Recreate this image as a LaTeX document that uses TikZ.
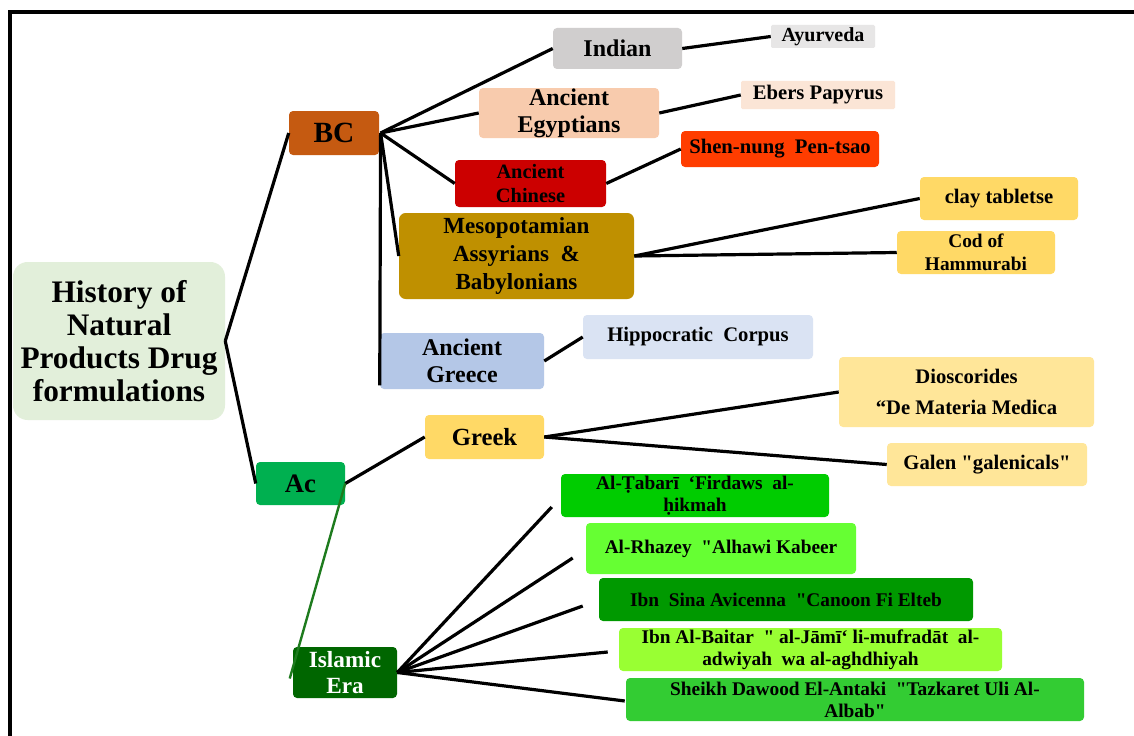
\documentclass[tikz,border=0pt]{standalone}
\usepackage{fontspec}
\setmainfont{Liberation Serif}
\newfontfamily\tnr{Liberation Serif}
\usetikzlibrary{calc}
\newcommand{\myfs}[2]{\tnr\bfseries\fontsize{#1}{#2}\selectfont}
\definecolor{cRoot}{HTML}{E2EFDA}
\definecolor{cBC}{HTML}{C55A11}
\definecolor{cAc}{HTML}{00B050}
\definecolor{cIndian}{HTML}{D0CECE}
\definecolor{cAyur}{HTML}{E7E6E6}
\definecolor{cEgypt}{HTML}{F8CBAD}
\definecolor{cEbers}{HTML}{FBE5D6}
\definecolor{cChina}{HTML}{CC0000}
\definecolor{cShen}{HTML}{FF3D00}
\definecolor{cMeso}{HTML}{BF9000}
\definecolor{cGold}{HTML}{FFD966}
\definecolor{cGreece}{HTML}{B4C7E7}
\definecolor{cHippo}{HTML}{DAE3F3}
\definecolor{cPale}{HTML}{FFE699}
\definecolor{cIslam}{HTML}{006600}
\definecolor{cTabari}{HTML}{00CC00}
\definecolor{cRhazey}{HTML}{66FF33}
\definecolor{cSina}{HTML}{009900}
\definecolor{cBaitar}{HTML}{99FF33}
\definecolor{cSheikh}{HTML}{33CC33}
\definecolor{cGline}{HTML}{1E7B1E}
\begin{document}
\begin{tikzpicture}[x=0.75pt,y=-0.75pt,
  bx/.style={draw=none, rounded corners=3pt, inner sep=0pt, align=center},
  ln/.style={line width=2.4pt, black},
]
\useasboundingbox (0,0) rectangle (1134,735);
\fill[white] (0,0) rectangle (1134,735);
\draw[line width=3pt, black] (10,740) -- (10,12) -- (1140,12);

% nodes
\node[bx, fill=cRoot, minimum width=159pt, minimum height=118.5pt, rounded corners=11pt,
  font=\myfs{23.5}{24.75}] (root) at (119,341) {History of\\Natural\\Products Drug\\formulations};
\node[bx, fill=cBC, minimum width=67.5pt, minimum height=33pt, font=\myfs{22}{24}] (bc) at (334,133) {BC};
\node[bx, fill=cAc, minimum width=66.75pt, minimum height=32.25pt, font=\myfs{20}{22}] (ac) at (300.5,483.5) {Ac};

\node[bx, fill=cIndian, minimum width=96.75pt, minimum height=30.75pt, font=\myfs{18}{20}] (indian) at (617.5,48.5) {Indian};
\node[bx, fill=cAyur, rounded corners=1pt, minimum width=78pt, minimum height=17.25pt, font=\myfs{15}{17}] (ayur) at (823,36.5) {Ayurveda};
\node[bx, fill=cEgypt, minimum width=135pt, minimum height=37.5pt, font=\myfs{18}{20.25}] (egypt) at (569,113) {Ancient\\Egyptians};
\node[bx, fill=cEbers, rounded corners=1pt, minimum width=115.5pt, minimum height=21pt, font=\myfs{15.5}{17}] (ebers) at (818,95) {Ebers Papyrus};
\node[bx, fill=cChina, minimum width=113.25pt, minimum height=35.25pt, font=\myfs{15.3}{18}] (china) at (530.5,183.5) {Ancient\\Chinese};
\node[bx, fill=cShen, minimum width=148.5pt, minimum height=27pt, font=\myfs{15.5}{17}] (shen) at (780,149) {Shen-nung\ \ Pen-tsao};
\node[bx, fill=cMeso, minimum width=176.25pt, minimum height=64.5pt, rounded corners=5pt, font=\myfs{17.3}{21}] (meso) at (516.5,256) {Mesopotamian\\Assyrians\ \ \&\\Babylonians};
\node[bx, fill=cGold, minimum width=118.5pt, minimum height=32.25pt, font=\myfs{15.5}{17}] (clay) at (999,198.5) {clay tabletse};
\node[bx, fill=cGold, minimum width=118.5pt, minimum height=32.25pt, font=\myfs{14.5}{17.25}] (cod) at (976,252.5) {Cod of\\Hammurabi};
\node[bx, fill=cGreece, minimum width=123pt, minimum height=42pt, font=\myfs{18}{20.25}] (greece) at (462,361) {Ancient\\Greece};
\node[bx, fill=cHippo, minimum width=172.5pt, minimum height=33pt, font=\myfs{15.5}{17}] (hippo) at (698,337) {Hippocratic\ \ Corpus};

\node[bx, fill=cGold, minimum width=89.25pt, minimum height=33pt, font=\myfs{18.5}{20}] (greek) at (484.5,437) {Greek};
\node[bx, fill=cPale, minimum width=191.25pt, minimum height=52.5pt, font=\myfs{15.5}{23.25}] (dios) at (966.5,392) {Dioscorides\\“De Materia Medica};
\node[bx, fill=cPale, minimum width=150pt, minimum height=32.25pt, font=\myfs{15.5}{17}] (galen) at (987,464.5) {Galen "galenicals"};

\node[bx, fill=cIslam, text=white, minimum width=78pt, minimum height=38.25pt, font=\myfs{17.4}{19.5}] (islam) at (345,672.5) {Islamic\\Era};
\node[bx, fill=cTabari, minimum width=201pt, minimum height=32.25pt, font=\myfs{14.5}{16.5}] (tabari) at (695,495.5) {Al-Ṭabarī\ \ ‘Firdaws\ \ al-\\ḥikmah};
\node[bx, fill=cRhazey, minimum width=202.5pt, minimum height=38.25pt, font=\myfs{14.5}{16.5}] (rhazey) at (721,548.5) {Al-Rhazey\ \ "Alhawi Kabeer};
\node[bx, fill=cSina, minimum width=280.5pt, minimum height=32.25pt, font=\myfs{14.5}{16.5}] (sina) at (786,599.5) {Ibn\ \ Sina\ Avicenna\ \ "Canoon\ Fi\ Elteb};
\node[bx, fill=cBaitar, minimum width=287.25pt, minimum height=32.25pt, font=\myfs{14.5}{16.5}] (baitar) at (810.5,649.5) {Ibn\ Al-Baitar\ \ "\ al-Jāmī‘\ li-mufradāt\ \ al-\\adwiyah\ \ wa\ al-aghdhiyah};
\node[bx, fill=cSheikh, minimum width=343.5pt, minimum height=32.25pt, font=\myfs{14.5}{16.5}] (sheikh) at (855,699.5) {Sheikh\ Dawood\ El-Antaki\ \ "Tazkaret Uli\ Al-\\Albab"};

% connectors
\draw[ln] (root.east) -- (bc.west);
\draw[ln] (root.east) -- (ac.west);
\coordinate (bcx) at ([xshift=1pt]bc.east);
\draw[ln] (bcx) -- (indian.west);
\draw[ln] (bcx) -- (egypt.west);
\draw[ln] (bcx) -- (china.west);
\draw[ln] (bcx) -- (meso.west);
\coordinate (gEnd) at ([yshift=3pt]greece.south west);
\draw[ln] (bcx) -- (gEnd);
\draw[ln] (indian.east) -- (ayur.west);
\draw[ln] (egypt.east) -- (ebers.west);
\draw[ln] (china.east) -- (shen.west);
\draw[ln] (meso.east) -- (clay.west);
\draw[ln] (meso.east) -- (cod.west);
\draw[ln] (greece.east) -- (hippo.west);
\draw[ln] (ac.east) -- (greek.west);
\coordinate (iEnd) at ($(islam.west)+(-3,6)$);
\draw[line width=1.8pt, cGline] (ac.east) -- (iEnd);
\draw[ln] (greek.east) -- (dios.west);
\draw[ln] (greek.east) -- (galen.west);
\coordinate (t1) at ($(tabari.west)+(-9,11.5)$);
\coordinate (t2) at ($(rhazey.west)+(-13,9.5)$);
\coordinate (t3) at ($(sina.west)+(-16,6.5)$);
\coordinate (t4) at ($(baitar.west)+(-11,2.5)$);
\coordinate (t5) at ($(sheikh.west)+(-1,1.5)$);
\foreach \t in {t1,t2,t3,t4,t5} \draw[ln] (islam.east) -- (\t);
\end{tikzpicture}
\end{document}
